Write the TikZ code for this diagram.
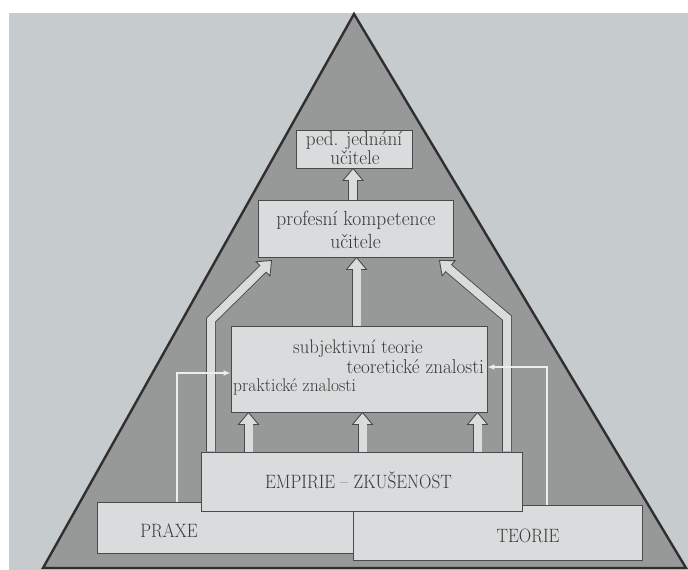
\documentclass[tikz,border=0pt]{standalone}
\usepackage{graphicx}
\usetikzlibrary{calc,arrows.meta}
\definecolor{page}{HTML}{C6CBCE}
\definecolor{tri}{HTML}{979898}
\definecolor{boxf}{HTML}{D9DCDC}
\definecolor{edge}{HTML}{4A4A4A}
\definecolor{ink}{HTML}{383838}
\definecolor{wline}{HTML}{ECEEEE}
\definecolor{tribord}{HTML}{2F2F2F}
\pgfdeclarelayer{back}\pgfdeclarelayer{mid}\pgfsetlayers{back,mid,main}
\newcommand\arrHL{12bp}
\newcommand\arrHW{10bp}
\newcommand\harrow[3]{%
  \coordinate (hb) at ($(#3)!\arrHL!(#2)$);
  \draw[shaftout] #1 -- (hb);
  \filldraw[headst] ($(hb)!\arrHW!90:(#3)$) -- (#3) -- ($(hb)!\arrHW!-90:(#3)$) -- cycle;
  \draw[shaftin] #1 -- ($(hb)!1bp!(#3)$);
}
\newcommand\capstr[1]{\scalebox{1}[1.12]{#1}}
\newcommand\lowstr[1]{\scalebox{1}[1.05]{#1}}
\tikzset{
  box/.style={draw=edge, line width=0.9bp, fill=boxf, inner sep=0pt, text=ink},
  bigtxt/.style={inner sep=0pt, text=ink, anchor=base, font=\fontsize{19.6}{22}\selectfont},
  midtxt/.style={inner sep=0pt, text=ink, font=\fontsize{18.5}{20}\selectfont},
  captxt/.style={inner sep=0pt, text=ink, anchor=base, font=\fontsize{17.3}{20}\selectfont},
  shaftout/.style={draw=edge, line width=9.8bp, line join=miter},
  shaftin/.style={draw=boxf, line width=8bp, line join=miter},
  headst/.style={fill=boxf, draw=edge, line width=0.9bp, line join=miter},
  thinarr/.style={draw=wline, line width=1.3bp, -{Latex[length=7bp,width=6bp]}}
}
\begin{document}
\begin{tikzpicture}[x=1bp,y=-1bp]
\useasboundingbox (0,0) rectangle (688,570);
\begin{pgfonlayer}{back}
  \fill[white] (0,0) rectangle (688,570);
  \fill[page] (9,13) rectangle (688,570);
  \filldraw[fill=tri, draw=tribord, line width=2.4bp, line join=miter] (354,14) -- (43,568) -- (686,568) -- cycle;
\end{pgfonlayer}

% boxes
\node[box, minimum width=273bp, minimum height=51bp] (praxe) at (233.5,527.5) {};
\node[box, minimum width=289bp, minimum height=55bp] (teorie) at (497.5,532.5) {};
\node[box, minimum width=321bp, minimum height=59bp] (emp) at (361.5,481.5) {};
\node[box, minimum width=256bp, minimum height=86bp] (subj) at (359,369) {};
\node[box, minimum width=195bp, minimum height=57bp] (prof) at (355.5,228.5) {};
\node[box, minimum width=116bp, minimum height=38bp] (ped) at (354,149) {};

% texts
\node[bigtxt, font=\fontsize{19.2}{22}\selectfont] (ped1) at (354,145.3) {\lowstr{ped. jednání}};
\node[bigtxt, font=\fontsize{19.2}{22}\selectfont] (ped2) at (355,164.8) {\lowstr{učitele}};
\node[bigtxt] (prof1) at (356,225) {\lowstr{profesní kompetence}};
\node[bigtxt] (prof2) at (355.5,248) {\lowstr{učitele}};
\node[midtxt, anchor=base, font=\fontsize{18.7}{20}\selectfont] (st1) at (358,353) {\lowstr{subjektivní teorie}};
\node[midtxt, anchor=base east, font=\fontsize{19.2}{20}\selectfont] (st2) at (484,373) {\lowstr{teoretické znalosti}};
\node[midtxt, anchor=base west, font=\fontsize{17.6}{20}\selectfont] (st3) at (233,391) {\lowstr{praktické znalosti}};
\node[captxt] (empt) at (358.5,488) {\capstr{EMPIRIE – ZKUŠENOST}};
\node[captxt] (praxet) at (169,537) {\capstr{PRAXE}};
\node[captxt] (teoriet) at (528,542) {\capstr{TEORIE}};

% hollow arrows
\begin{pgfonlayer}{mid}
  \coordinate (t1) at ([xshift=-1bp]ped.south);
  \coordinate (s1) at (prof.north -| t1);
  \harrow{(s1)}{s1}{t1}
  \coordinate (t2) at ([xshift=1bp]prof.south);
  \coordinate (s2) at (subj.north -| t2);
  \harrow{(s2)}{s2}{t2}
  \coordinate (t3) at ([xshift=-110.5bp]subj.south);
  \coordinate (s3) at (emp.north -| t3);
  \harrow{(s3)}{s3}{t3}
  \coordinate (t4) at ([xshift=3.5bp]subj.south);
  \coordinate (s4) at (emp.north -| t4);
  \harrow{(s4)}{s4}{t4}
  \coordinate (t5) at ([xshift=118.5bp]subj.south);
  \coordinate (s5) at (emp.north -| t5);
  \harrow{(s5)}{s5}{t5}
  \coordinate (tl) at ([xshift=14bp,yshift=-3bp]prof.south west);
  \coordinate (bl) at (211,320);
  \coordinate (sl) at (emp.north -| bl);
  \harrow{(sl) -- (bl)}{bl}{tl}
  \coordinate (tr) at ([xshift=-14bp,yshift=-3bp]prof.south east);
  \coordinate (br) at (507,318);
  \coordinate (sr) at (emp.north -| br);
  \harrow{(sr) -- (br)}{br}{tr}
\end{pgfonlayer}

% thin arrows
\draw[thinarr] ([xshift=-56.5bp]praxe.north) |- ([yshift=-4bp]subj.west);
\draw[thinarr] ([xshift=49.5bp]teorie.north) |- ([yshift=2bp]subj.east);
\end{tikzpicture}
\end{document}
